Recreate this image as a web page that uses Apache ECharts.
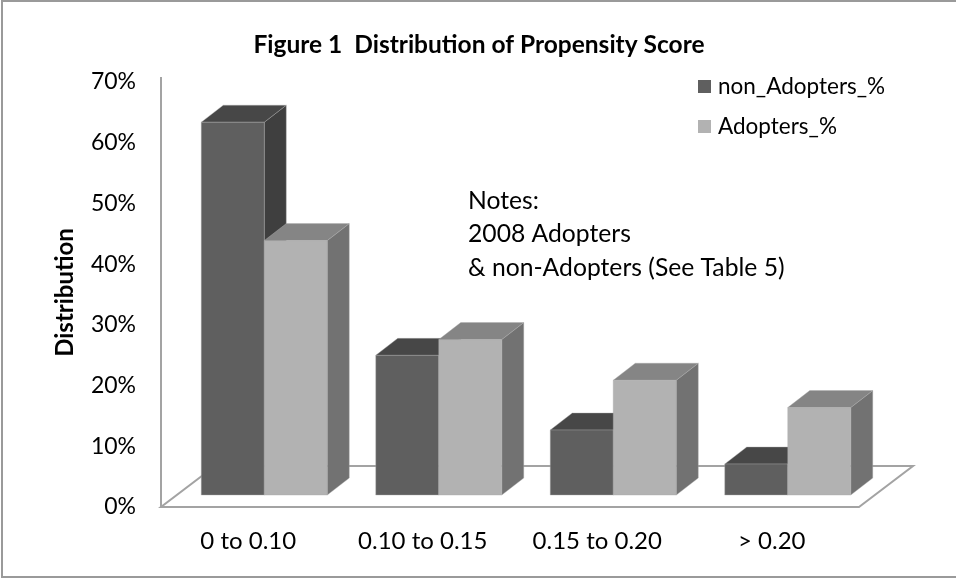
<!DOCTYPE html>
<html><head><meta charset="utf-8">
<style>html,body{margin:0;padding:0;background:#fff;overflow:hidden}#c{width:956px;height:578px}</style>
<script src="https://cdn.jsdelivr.net/npm/echarts@6/dist/echarts.min.js"></script>
</head><body><div id="c"></div>
<script>
const categories = ['0 to 0.10','0.10 to 0.15','0.15 to 0.20','> 0.20'];
const nonAdopters = [61.4,23,10.7,5.1];
const adopters = [41.9,25.6,18.9,14.4];
const yTicks = [0,70];
const FONT='Lato, "Open Sans", sans-serif';
const DX=22, DY=-17, OX=16, OY=-12, BAR=63;
const chart=echarts.init(document.getElementById('c'),null,{renderer:'canvas'});
function barItem(idx,front,top,side){
  return function(params,api){
    const c=api.coord([api.value(0),api.value(1)]);
    const base=api.coord([api.value(0),0]);
    const x0=c[0]+OX+(idx-1)*BAR, x1=x0+BAR;
    const t=c[1]+OY, b=base[1]+OY;
    const poly=(pts,color)=>({type:'polygon',shape:{points:pts},style:{fill:color,stroke:'#a8a8a8',lineWidth:0.4}});
    return {type:'group',children:[
      poly([[x1,t],[x1+DX,t+DY],[x1+DX,b+DY],[x1,b]],side),
      poly([[x0,t],[x0+DX,t+DY],[x1+DX,t+DY],[x1,t]],top),
      poly([[x0,t],[x1,t],[x1,b],[x0,b]],front)
    ]};
  };
}
const floorItem=function(params,api){
  const o=api.coord([0,0]);
  const L=params.coordSys.x, R=L+params.coordSys.width, y=o[1];
  return {type:'group',children:[
    {type:'polygon',shape:{points:[[L,y],[R,y],[R+54,y-41],[L+54,y-41]]},style:{fill:'#fff',stroke:'#a3a3a3',lineWidth:2}},
    {type:'line',shape:{x1:L,y1:y,x2:L,y2:params.coordSys.y-5},style:{stroke:'#a3a3a3',lineWidth:2}}
  ]};
};
chart.setOption({
  animation:false,
  backgroundColor:'#fff',
  title:{text:'Figure 1  Distribution of Propensity Score',left:474,top:28,textAlign:'center',
    textStyle:{fontFamily:FONT,fontWeight:'bold',fontSize:24.5,color:'#000'}},
  legend:{orient:'vertical',left:698,top:75,padding:0,itemWidth:13,itemHeight:13,itemGap:17,icon:'rect',
    data:['non_Adopters_%','Adopters_%'],
    textStyle:{fontFamily:FONT,fontSize:22.5,color:'#000',padding:[0,0,0,2]}},
  grid:{left:161,width:698,top:82,height:425,containLabel:false},
  xAxis:{type:'category',data:categories,axisLine:{show:false},axisTick:{show:false},
    axisLabel:{fontFamily:FONT,fontSize:24,color:'#000',margin:22,interval:0}},
  yAxis:{type:'value',min:yTicks[0],max:yTicks[1],interval:10,
    name:'Distribution',nameLocation:'middle',nameGap:84,nameRotate:90,
    nameTextStyle:{fontFamily:FONT,fontWeight:'bold',fontSize:24,color:'#000',padding:[0,0,0,4]},
    axisLine:{show:false},axisTick:{show:false},splitLine:{show:false},
    axisLabel:{fontFamily:FONT,fontSize:23,color:'#000',margin:25,padding:[2,0,0,0],formatter:'{value}%'}},
  graphic:[
    {type:'rect',z:-1,shape:{x:2,y:1,width:980,height:576},style:{fill:'none',stroke:'#9a9a9a',lineWidth:2}},
    {type:'text',left:468,top:184,style:{text:'Notes:\n2008 Adopters\n& non-Adopters (See Table 5)',fontFamily:FONT,fontSize:24.7,lineHeight:33.5,fill:'#000'}}
  ],
  series:[
    {type:'custom',silent:true,z:1,renderItem:floorItem,data:[[0,0]],encode:{x:0,y:1},tooltip:{show:false}},
    {name:'non_Adopters_%',type:'custom',z:3,itemStyle:{color:'#5f5f5f'},
      renderItem:barItem(0,'#5f5f5f','#474747','#3f3f3f'),encode:{x:0,y:1},
      data:nonAdopters.map((v,i)=>[i,v])},
    {name:'Adopters_%',type:'custom',z:4,itemStyle:{color:'#b2b2b2'},
      renderItem:barItem(1,'#b2b2b2','#858585','#727272'),encode:{x:0,y:1},
      data:adopters.map((v,i)=>[i,v])}
  ]
});
</script></body></html>
